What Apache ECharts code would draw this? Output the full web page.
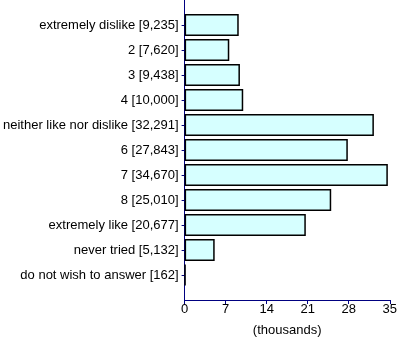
<!DOCTYPE html>
<html>
<head>
<meta charset="utf-8">
<script src="https://cdn.jsdelivr.net/npm/echarts@6/dist/echarts.min.js"></script>
<style>
  html, body { margin: 0; padding: 0; background: #fff; }
  #chart { width: 400px; height: 342px; }
</style>
</head>
<body>
<div id="chart"></div>
<script>
// Responses per rating, top to bottom
const categories = [
  'extremely dislike', '2', '3', '4', 'neither like nor dislike',
  '6', '7', '8', 'extremely like', 'never tried', 'do not wish to answer'
];
const counts = [9235, 7620, 9438, 10000, 32291, 27843, 34670, 25010, 20677, 5132, 162];
const xTicks = [0, 7, 14, 21, 28, 35]; // thousands

// Category labels carry the count in brackets
const labels = categories.map((c, i) => c + ' [' + counts[i].toLocaleString('en-US') + ']');

// Blank slots at each end leave half a row of space above and below the bars
const yData = [''].concat(labels, ['']);
const barData = ['-'].concat(counts, ['-']);

const navy = '#000080';
const font = 'Liberation Sans';
const chart = echarts.init(document.getElementById('chart'));
chart.setOption({
  animation: false,
  grid: { left: 184, right: 9, top: -1, bottom: 42, containLabel: false },
  xAxis: {
    type: 'value',
    min: xTicks[0] * 1000,
    max: xTicks[xTicks.length - 1] * 1000,
    interval: 7000,
    splitLine: { show: false },
    axisLine: { show: true, lineStyle: { color: navy, width: 1 } },
    axisTick: { show: true, length: 4, lineStyle: { color: navy } },
    axisLabel: {
      formatter: v => String(v / 1000),
      color: '#000', fontFamily: font, fontSize: 13, margin: 3
    },
    name: '(thousands)',
    nameLocation: 'middle',
    nameGap: 24,
    nameTextStyle: { color: '#000', fontFamily: font, fontSize: 13 }
  },
  yAxis: {
    type: 'category',
    data: yData,
    inverse: true,
    boundaryGap: false,
    z: 1,
    axisLine: { show: true, lineStyle: { color: navy, width: 1 } },
    axisTick: {
      show: true, length: 3, lineStyle: { color: navy },
      interval: (idx) => idx > 0 && idx < yData.length - 1
    },
    axisLabel: {
      interval: 0,
      color: '#000', fontFamily: font, fontSize: 13, margin: 6
    },
    splitLine: { show: false }
  },
  series: [{
    type: 'bar',
    data: barData,
    barWidth: 22,
    z: 5,
    itemStyle: { color: '#d6ffff', borderColor: '#000', borderWidth: 1.5 }
  }]
});
</script>
</body>
</html>
